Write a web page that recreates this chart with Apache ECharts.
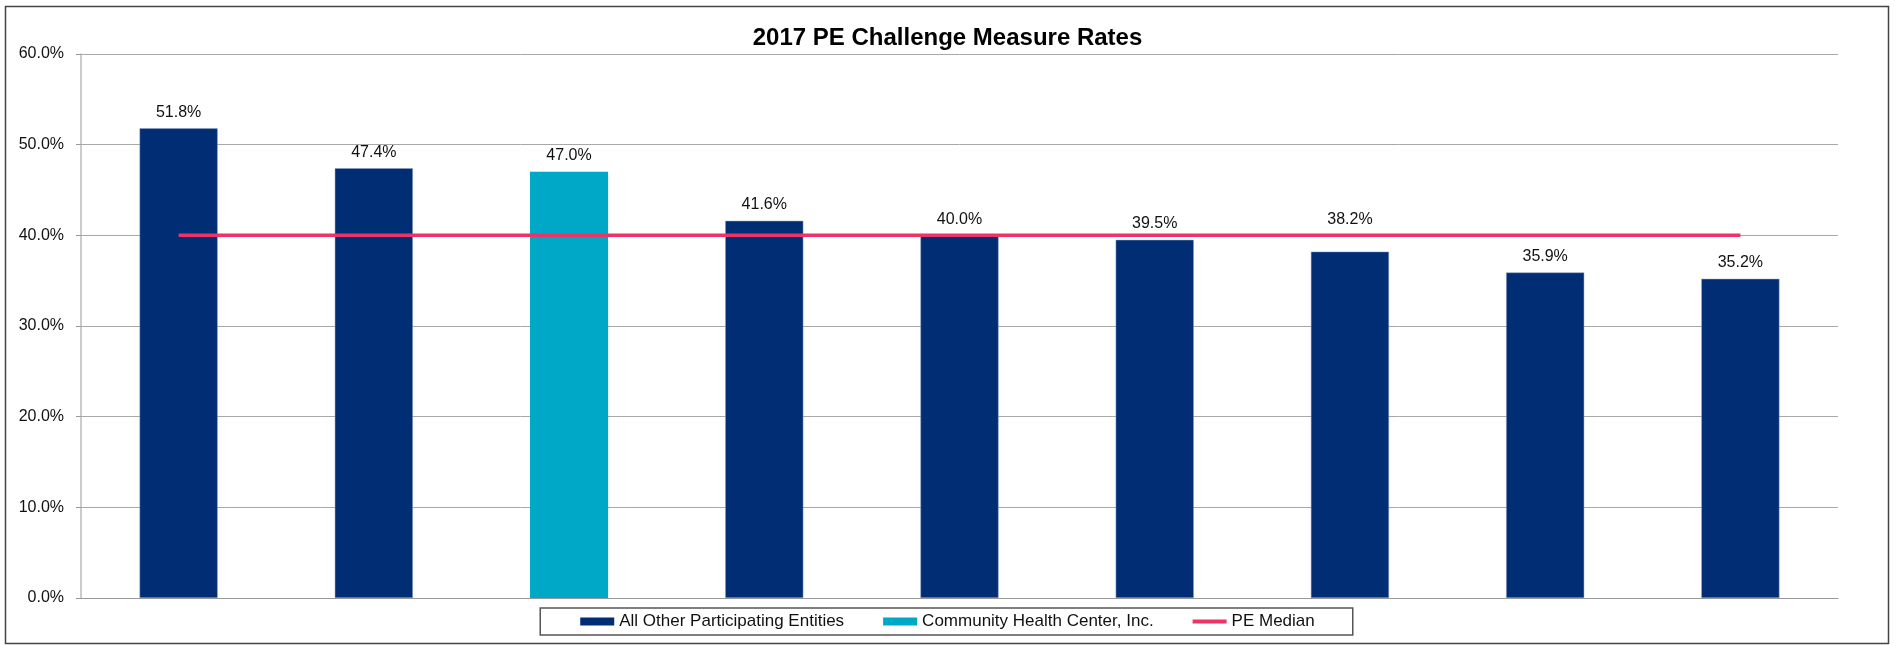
<!DOCTYPE html>
<html><head><meta charset="utf-8">
<script src="https://cdn.jsdelivr.net/npm/echarts@6/dist/echarts.min.js"></script>
<style>html,body{margin:0;padding:0;background:#fff;}#c{width:1895px;height:645px;}</style>
</head><body><div id="c"></div>
<script>
const categories = ['', '', '', '', '', '', '', '', ''];
const otherEntities = [51.8, 47.4, null, 41.6, 40.0, 39.5, 38.2, 35.9, 35.2];
const communityHealth = [null, null, 47.0, null, null, null, null, null, null];
const peMedian = [40, 40, 40, 40, 40, 40, 40, 40, 40];
const yTicks = [0, 10, 20, 30, 40, 50, 60];

const chart = echarts.init(document.getElementById('c'), null, {renderer: 'canvas'});
const font = 'Liberation Sans, Arial, sans-serif';
const fmt = p => p.value == null ? '' : Number(p.value).toFixed(1) + '%';
const lbl = {show: true, position: 'top', distance: 8, fontFamily: font, fontSize: 16, color: '#111', formatter: fmt};
// the label of the 7th bar sits above the median line, as in the original
const otherData = otherEntities.map((v, i) => i === 6 ? {value: v, label: {offset: [0, -16]}} : v);
chart.setOption({
  animation: false,
  backgroundColor: '#fff',
  graphic: [{type: 'rect', shape: {x: 5.5, y: 6.5, width: 1883, height: 637},
    style: {fill: 'none', stroke: '#444', lineWidth: 1.5}, z: -1}],
  title: {text: '2017 PE Challenge Measure Rates', left: 'center', top: 21,
    textStyle: {fontFamily: font, fontSize: 24, fontWeight: 'bold', color: '#000'}},
  grid: {left: 81, right: 57, top: 54, bottom: 47},
  legend: {bottom: 10, left: 'center', borderColor: '#555', borderWidth: 1.5, padding: [5, 38, 5, 40],
    itemGap: 39, itemWidth: 34, itemHeight: 8,
    itemStyle: {borderWidth: 0},
    textStyle: {fontFamily: font, fontSize: 17, color: '#111'},
    data: [{name: 'All Other Participating Entities', icon: 'rect'},
           {name: 'Community Health Center, Inc.', icon: 'rect'},
           {name: 'PE Median', icon: 'path://M0,0 L34,0 L34,4 L0,4 Z', itemStyle: {color: '#EC3468'}}]},
  xAxis: {type: 'category', data: categories, axisTick: {show: false}, axisLabel: {show: false},
    axisLine: {lineStyle: {color: '#999', width: 1}}},
  yAxis: {type: 'value', min: 0, max: 60, interval: 10,
    axisLine: {show: true, lineStyle: {color: '#bbb', width: 1.5}},
    axisTick: {show: true, inside: false, length: 5, lineStyle: {color: '#999'}},
    splitLine: {lineStyle: {color: '#a8a8a8', width: 1}},
    axisLabel: {fontFamily: font, fontSize: 16, color: '#111', margin: 17,
      formatter: v => yTicks.includes(v) ? v.toFixed(1) + '%' : ''}},
  series: [
    {name: 'All Other Participating Entities', type: 'bar', stack: 'x', barWidth: '40%',
     data: otherData, itemStyle: {color: '#002D74', borderColor: '#8ea0c0', borderWidth: 0.5}, label: lbl},
    {name: 'Community Health Center, Inc.', type: 'bar', stack: 'x', barWidth: '40%',
     data: communityHealth, itemStyle: {color: '#00A8C8'}, label: lbl},
    {name: 'PE Median', type: 'line', data: peMedian, symbol: 'none', z: 5,
     itemStyle: {color: '#EC3468'}, lineStyle: {color: '#EC3468', width: 3.5}}
  ]
});
</script></body></html>
